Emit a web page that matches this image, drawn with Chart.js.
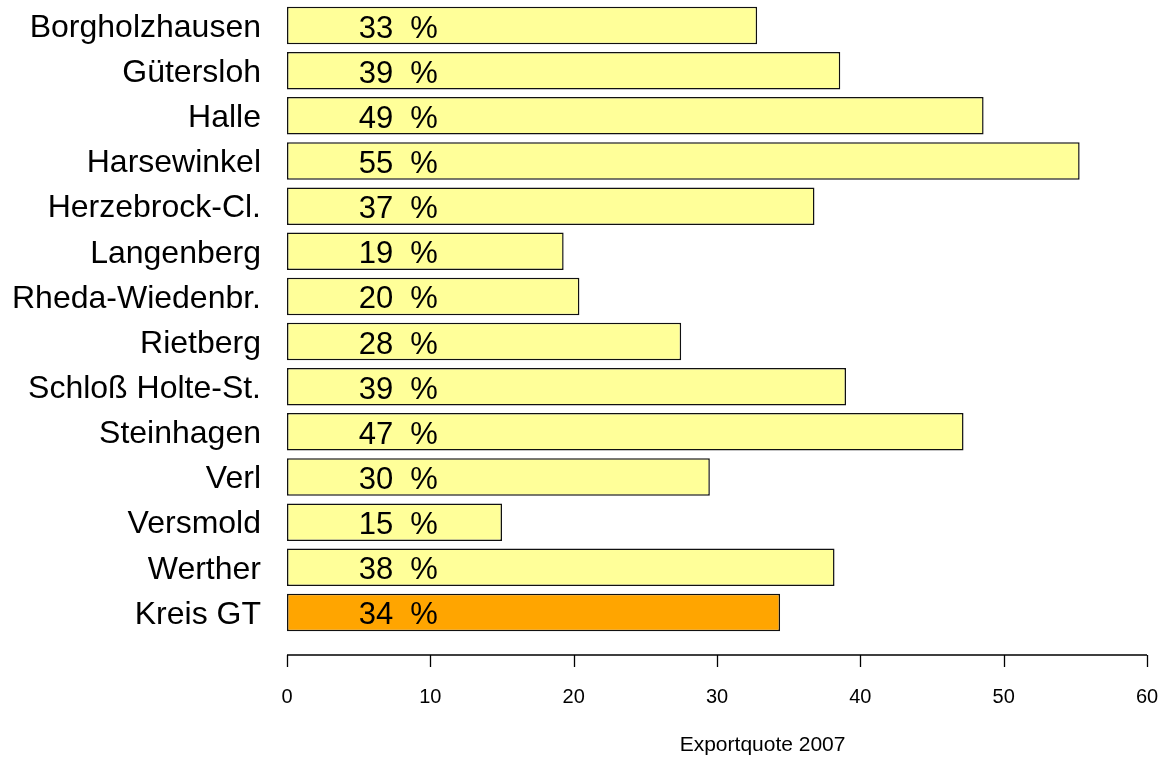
<!DOCTYPE html>
<html>
<head>
<meta charset="utf-8">
<script src="https://cdn.jsdelivr.net/npm/chart.js@4"></script>
<style>
  html, body { margin: 0; padding: 0; background: #ffffff; }
  #wrap { width: 1165px; height: 760px; }
</style>
</head>
<body>
<div id="wrap"><canvas id="c" width="1165" height="760"></canvas></div>
<script>
// ---- data ----
const categories = [
  'Borgholzhausen', 'Gütersloh', 'Halle', 'Harsewinkel', 'Herzebrock-Cl.',
  'Langenberg', 'Rheda-Wiedenbr.', 'Rietberg', 'Schloß Holte-St.', 'Steinhagen',
  'Verl', 'Versmold', 'Werther', 'Kreis GT'
];
const exportQuote = [32.8, 38.6, 48.6, 55.3, 36.8, 19.3, 20.4, 27.5, 39.0, 47.2, 29.5, 15.0, 38.2, 34.4];
const xTickValues = [0, 10, 20, 30, 40, 50, 60];
const axisTitle = 'Exportquote 2007';
const highlightCategory = 'Kreis GT';

// ---- styles ----
const FONT = '"Liberation Sans", Arial, Helvetica, sans-serif';
const barFill = categories.map(c => c === highlightCategory ? '#FFA500' : '#FFFF99');

const axisPlugin = {
  id: 'rAxis',
  afterDatasetsDraw(chart) {
    const ctx = chart.ctx;
    const xs = chart.scales.x;
    const meta = chart.getDatasetMeta(0);
    ctx.save();
    ctx.fillStyle = '#000';
    ctx.font = '31px ' + FONT;
    ctx.textAlign = 'left';
    ctx.textBaseline = 'alphabetic';
    const lx = xs.getPixelForValue(5);
    meta.data.forEach((bar, i) => {
      ctx.fillText(Math.round(exportQuote[i]) + '  %', lx, bar.y + 12);
    });
    ctx.restore();
  },
  afterDraw(chart) {
    const ctx = chart.ctx;
    const xs = chart.scales.x;
    const yLine = chart.chartArea.bottom + 20;
    ctx.save();
    ctx.strokeStyle = '#000';
    ctx.lineWidth = 1.3;
    ctx.beginPath();
    ctx.moveTo(xs.getPixelForValue(xTickValues[0]), yLine);
    ctx.lineTo(xs.getPixelForValue(xTickValues[xTickValues.length - 1]), yLine);
    xTickValues.forEach(v => {
      const px = Math.round(xs.getPixelForValue(v)) + 0.5;
      ctx.moveTo(px, yLine);
      ctx.lineTo(px, yLine + 12);
    });
    ctx.stroke();
    ctx.fillStyle = '#000';
    ctx.font = '21px ' + FONT;
    ctx.textAlign = 'center';
    ctx.textBaseline = 'middle';
    ctx.fillText(axisTitle, xs.left + (xs.right - xs.left) * 0.553, 745);
    ctx.restore();
  }
};

new Chart(document.getElementById('c'), {
  type: 'bar',
  data: {
    labels: categories,
    datasets: [{
      data: exportQuote,
      backgroundColor: barFill,
      borderColor: '#111',
      borderWidth: 1.5,
      borderSkipped: false,
      barPercentage: 0.83,
      categoryPercentage: 1.0
    }]
  },
  options: {
    indexAxis: 'y',
    responsive: false,
    devicePixelRatio: 1,
    animation: false,
    layout: { padding: { top: 3, right: 18, left: 0, bottom: 0 } },
    plugins: { legend: { display: false }, tooltip: { enabled: false } },
    scales: {
      x: {
        type: 'linear',
        min: 0,
        max: 60,
        afterFit: s => { s.height = 125; s.paddingLeft = 0; s.paddingRight = 0; },
        afterBuildTicks: s => { s.ticks = xTickValues.map(v => ({ value: v })); },
        grid: { display: false, drawTicks: false },
        border: { display: false },
        ticks: { color: '#000', font: { family: FONT, size: 20 }, padding: 50, maxRotation: 0 }
      },
      y: {
        type: 'category',
        afterFit: s => { s.width = 287; s.paddingTop = 0; s.paddingBottom = 0; },
        grid: { display: false, drawTicks: false },
        border: { display: false },
        ticks: { color: '#000', font: { family: FONT, size: 32 }, padding: 26, labelOffset: 2.5, autoSkip: false }
      }
    }
  },
  plugins: [axisPlugin]
});
</script>
</body>
</html>
